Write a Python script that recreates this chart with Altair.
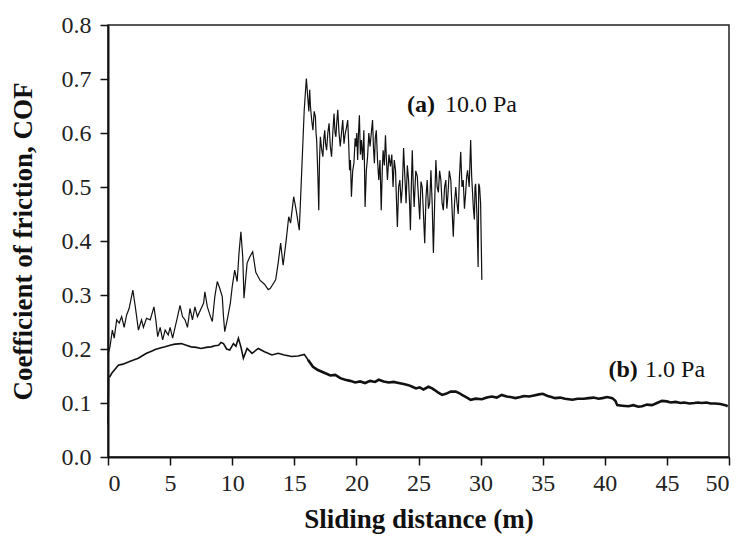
import altair as alt
import pandas as pd

# Series (a) 10.0 Pa
a_x = [0.0, 0.16, 0.35, 0.5, 0.7, 0.9, 1.1, 1.3, 1.5, 1.7, 2.0, 2.2, 2.45, 2.7, 2.85, 3.1, 3.4, 3.7, 3.85, 4.0,
       4.2, 4.4, 4.6, 4.85, 5.0, 5.2, 5.4, 5.6, 5.8, 6.0, 6.2, 6.4, 6.6, 6.8, 7.0, 7.2, 7.5, 7.7, 7.8, 8.0,
       8.25, 8.4, 8.6, 8.8, 9.0, 9.2, 9.3, 9.4, 9.6, 9.85, 10.0, 10.2, 10.4, 10.55, 10.7, 10.85, 10.95, 11.2, 11.4, 11.65,
       11.9, 12.25, 12.6, 12.9, 13.06, 13.5, 13.7, 13.9, 14.1, 14.35, 14.55, 14.7, 14.95, 15.15, 15.4, 15.6, 15.8, 15.97,
       16.1, 16.17, 16.24, 16.3, 16.35, 16.42, 16.5, 16.6, 16.7, 16.75, 16.8, 16.9, 16.97, 17.03, 17.1, 17.2, 17.3, 17.38, 17.45, 17.52,
       17.6, 17.7, 17.8, 17.9, 18.0, 18.1, 18.2, 18.28, 18.35, 18.42, 18.5, 18.6, 18.7, 18.8, 18.9, 19.0, 19.1, 19.2, 19.3, 19.38,
       19.45, 19.52, 19.6, 19.7, 19.8, 19.9, 19.97, 20.03, 20.1, 20.17, 20.24, 20.32, 20.4, 20.5, 20.6, 20.65, 20.7, 20.8, 20.9, 21.0,
       21.1, 21.2, 21.3, 21.38, 21.45, 21.52, 21.6, 21.7, 21.8, 21.9, 22.0, 22.08, 22.15, 22.25, 22.34, 22.42, 22.5, 22.62, 22.74, 22.85,
       22.95, 23.05, 23.15, 23.22, 23.3, 23.4, 23.5, 23.6, 23.7, 23.8, 23.9, 24.0, 24.1, 24.2, 24.28, 24.35, 24.42, 24.5, 24.58, 24.65,
       24.78, 24.9, 25.0, 25.1, 25.2, 25.3, 25.4, 25.5, 25.6, 25.7, 25.8, 25.9, 25.95, 26.0, 26.1, 26.2, 26.3, 26.4, 26.5, 26.6,
       26.7, 26.8, 26.9, 27.0, 27.1, 27.2, 27.28, 27.36, 27.48, 27.6, 27.7, 27.8, 27.9, 28.0, 28.1, 28.2, 28.3, 28.4, 28.5, 28.6,
       28.7, 28.8, 28.88, 28.95, 29.08, 29.2, 29.28, 29.35, 29.42, 29.5, 29.55, 29.6, 29.7, 29.8, 29.85, 29.92, 30.0, 30.1]
a_y = [0.19, 0.204, 0.235, 0.22, 0.254, 0.248, 0.26, 0.24, 0.263, 0.275, 0.309, 0.278, 0.235, 0.254, 0.24, 0.257, 0.254, 0.278, 0.254, 0.223,
       0.24, 0.217, 0.235, 0.226, 0.24, 0.22, 0.24, 0.26, 0.281, 0.26, 0.254, 0.24, 0.275, 0.254, 0.278, 0.26, 0.275, 0.285, 0.306, 0.278,
       0.26, 0.251, 0.297, 0.325, 0.312, 0.297, 0.26, 0.232, 0.254, 0.285, 0.315, 0.346, 0.325, 0.378, 0.417, 0.37, 0.294, 0.359, 0.37, 0.38,
       0.342, 0.327, 0.32, 0.31, 0.312, 0.328, 0.359, 0.396, 0.355, 0.402, 0.445, 0.433, 0.482, 0.457, 0.42, 0.531, 0.643, 0.701,
       0.661, 0.64, 0.68, 0.65, 0.636, 0.62, 0.605, 0.64, 0.63, 0.6, 0.587, 0.52, 0.457, 0.55, 0.593, 0.57, 0.556, 0.59, 0.605, 0.58,
       0.568, 0.6, 0.618, 0.575, 0.556, 0.6, 0.636, 0.6, 0.593, 0.62, 0.643, 0.6, 0.575, 0.6, 0.624, 0.58, 0.599, 0.61, 0.624, 0.58,
       0.531, 0.55, 0.482, 0.53, 0.544, 0.59, 0.575, 0.6, 0.55, 0.6, 0.633, 0.56, 0.587, 0.55, 0.605, 0.54, 0.463, 0.53, 0.556, 0.6,
       0.575, 0.6, 0.624, 0.57, 0.544, 0.59, 0.605, 0.55, 0.513, 0.55, 0.457, 0.53, 0.568, 0.54, 0.596, 0.55, 0.513, 0.56, 0.538, 0.56,
       0.5, 0.55, 0.531, 0.48, 0.426, 0.5, 0.513, 0.47, 0.5, 0.572, 0.52, 0.47, 0.54, 0.513, 0.47, 0.42, 0.5, 0.568, 0.5, 0.463,
       0.53, 0.52, 0.48, 0.44, 0.51, 0.5, 0.45, 0.396, 0.48, 0.513, 0.46, 0.47, 0.5, 0.531, 0.47, 0.378, 0.47, 0.55, 0.5, 0.49,
       0.53, 0.513, 0.47, 0.457, 0.5, 0.513, 0.46, 0.482, 0.53, 0.513, 0.46, 0.408, 0.47, 0.5, 0.47, 0.45, 0.52, 0.565, 0.5, 0.513,
       0.46, 0.49, 0.52, 0.531, 0.5, 0.587, 0.52, 0.49, 0.46, 0.44, 0.5, 0.506, 0.45, 0.352, 0.506, 0.5, 0.47, 0.328]

# Series (b) 1.0 Pa
b_x = [0.0, 0.05, 0.16, 0.3, 0.55, 0.83, 1.2, 1.64, 2.0, 2.44, 2.8, 3.1, 3.5, 3.8, 4.2, 4.6, 5.0, 5.4, 5.9, 6.3,
       6.7, 7.1, 7.5, 7.9, 8.3, 8.6, 8.9, 9.1, 9.3, 9.55, 9.8, 10.1, 10.3, 10.5, 10.7, 10.9, 11.2, 11.6, 12.1, 12.6,
       13.2, 13.7, 14.2, 14.8, 15.3, 15.8, 16.1, 16.5, 16.9, 17.5, 17.9, 18.3, 18.7, 19.1, 19.5, 19.9, 20.3, 20.7, 21.1, 21.5,
       21.8, 22.2, 22.6, 23.0, 23.4, 23.8, 24.2, 24.5, 24.8, 25.1, 25.4, 25.8, 26.1, 26.3, 26.6, 26.9, 27.2, 27.6, 28.0, 28.3,
       28.5, 28.9, 29.2, 29.6, 30.1, 30.5, 30.9, 31.3, 31.7, 32.1, 32.4, 32.8, 33.2, 33.5, 33.9, 34.3, 34.7, 35.0, 35.4, 35.7,
       36.0, 36.4, 36.8, 37.1, 37.4, 37.8, 38.3, 38.7, 39.1, 39.5, 39.8, 40.2, 40.6, 40.85, 41.0, 41.4, 41.9, 42.3, 42.7, 43.0,
       43.4, 43.8, 44.2, 44.6, 45.0, 45.3, 45.7, 46.1, 46.4, 46.8, 47.2, 47.5, 47.8, 48.2, 48.5, 48.9, 49.3, 49.7, 49.9]
b_y = [0.06, 0.15, 0.149, 0.155, 0.162, 0.17, 0.172, 0.176, 0.179, 0.183, 0.188, 0.192, 0.196, 0.199, 0.202, 0.204, 0.207, 0.209, 0.21, 0.207,
       0.204, 0.203, 0.201, 0.203, 0.204, 0.206, 0.207, 0.212, 0.21, 0.2, 0.198, 0.21, 0.205, 0.22, 0.204, 0.183, 0.201, 0.192, 0.201, 0.195,
       0.189, 0.192, 0.189, 0.186, 0.187, 0.19, 0.18, 0.167, 0.161, 0.155, 0.151, 0.152, 0.146, 0.143, 0.141, 0.138, 0.14, 0.137, 0.141, 0.139,
       0.143, 0.14, 0.138, 0.139, 0.137, 0.135, 0.133, 0.13, 0.127, 0.129, 0.125, 0.13, 0.127, 0.124, 0.119, 0.115, 0.117, 0.121, 0.121, 0.118,
       0.115, 0.11, 0.106, 0.108, 0.107, 0.11, 0.112, 0.11, 0.115, 0.112, 0.111, 0.109, 0.111, 0.113, 0.112, 0.114, 0.116, 0.117, 0.113, 0.111,
       0.109, 0.11, 0.108, 0.107, 0.106, 0.108, 0.108, 0.109, 0.11, 0.108, 0.109, 0.111, 0.109, 0.104, 0.096, 0.095, 0.094, 0.096, 0.093, 0.094,
       0.097, 0.096, 0.1, 0.104, 0.103, 0.101, 0.102, 0.1, 0.101, 0.099, 0.1, 0.101, 0.1, 0.101, 0.099, 0.099, 0.098, 0.096, 0.094]

# Annotations
lab_bold_text = ["(a)", "(b)"]
lab_bold_x = [24.07, 40.3]
lab_reg_text = ["10.0 Pa", "1.0 Pa"]
lab_reg_x = [27.13, 43.24]
lab_y = [0.652, 0.161]

x_ticks = [0, 5, 10, 15, 20, 25, 30, 35, 40, 45, 50]
y_ticks = [0.0, 0.1, 0.2, 0.3, 0.4, 0.5, 0.6, 0.7, 0.8]

FONT = "Liberation Serif"

df_a = pd.DataFrame({"x": a_x, "y": a_y, "i": range(len(a_x))})
df_b = pd.DataFrame({"x": b_x, "y": b_y, "i": range(len(b_x))})
df_b1 = df_b[df_b["x"] <= 16.1]
df_b2 = df_b[df_b["x"] >= 16.1]
df_lb = pd.DataFrame({"x": lab_bold_x, "y": lab_y, "t": lab_bold_text})
df_lr = pd.DataFrame({"x": lab_reg_x, "y": lab_y, "t": lab_reg_text})

xs = alt.Scale(domain=[0, 50], nice=False, zero=False)
ys = alt.Scale(domain=[0, 0.8], nice=False)

xax = alt.Axis(values=x_ticks, title="Sliding distance (m)", grid=False, format="d")
yax = alt.Axis(values=y_ticks, title="Coefficient of friction, COF", grid=False, format=".1f")

line_a = alt.Chart(df_a).mark_line(color="#111", strokeWidth=1.2).encode(
    x=alt.X("x:Q", scale=xs, axis=xax),
    y=alt.Y("y:Q", scale=ys, axis=yax),
    order="i:Q",
)
line_b1 = alt.Chart(df_b1).mark_line(color="#111", strokeWidth=1.6).encode(
    x=alt.X("x:Q", scale=xs),
    y=alt.Y("y:Q", scale=ys),
    order="i:Q",
)
line_b2 = alt.Chart(df_b2).mark_line(color="#111", strokeWidth=2.6).encode(
    x=alt.X("x:Q", scale=xs),
    y=alt.Y("y:Q", scale=ys),
    order="i:Q",
)
txt_b = alt.Chart(df_lb).mark_text(font=FONT, fontSize=24, fontWeight="bold", align="left", baseline="middle", color="#111").encode(
    x=alt.X("x:Q", scale=xs), y=alt.Y("y:Q", scale=ys), text="t:N")
txt_r = alt.Chart(df_lr).mark_text(font=FONT, fontSize=24, align="left", baseline="middle", color="#111").encode(
    x=alt.X("x:Q", scale=xs), y=alt.Y("y:Q", scale=ys), text="t:N")

chart = alt.layer(line_a, line_b1, line_b2, txt_b, txt_r).properties(
    width=621, height=432,
    autosize=alt.AutoSizeParams(type="none"),
    padding={"left": 108, "top": 25, "right": 16, "bottom": 82},
).configure_view(
    stroke="#222", strokeWidth=1.5
).configure_axis(
    labelFont=FONT, labelFontSize=24, labelColor="#222",
    titleFont=FONT, titleFontSize=27, titleFontWeight="bold", titleColor="#111",
    domainColor="#111", domainWidth=2, tickColor="#111", tickWidth=1.5, tickSize=8,
).configure_axisX(
    labelPadding=6, titlePadding=11
).configure_axisY(
    labelPadding=9, titlePadding=24
)

chart.save("out.html", embed_options={"renderer": "svg", "actions": False})
